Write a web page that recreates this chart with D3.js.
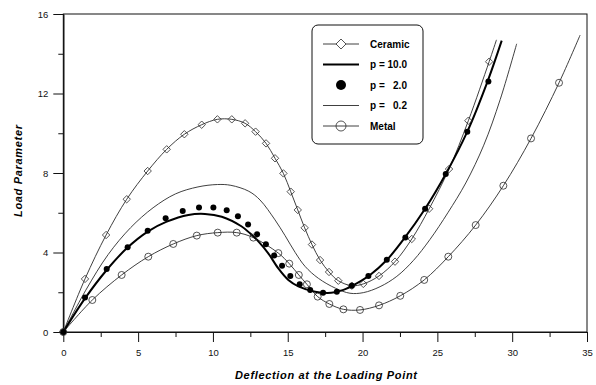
<!DOCTYPE html>
<html><head><meta charset="utf-8">
<script src="https://cdn.jsdelivr.net/npm/d3@7"></script>
<style>
body{margin:0;background:#fff;}
svg{display:block;font-family:"Liberation Sans",Arial,sans-serif;}
</style></head>
<body><svg id="chart" width="596" height="385"></svg>
<script>
// ---- data ----
const xMajorTicks = [0,5,10,15,20,25,30,35];
const xMinorTicks = [2.5,7.5,12.5,17.5,22.5,27.5,32.5];
const yMajorTicks = [0,4,8,12,16];
const yMinorTicks = [2,6,10,14];
const legendLabels = ["Ceramic","p = 10.0","p =   2.0","p =   0.2","Metal"];
const xTitle = "Deflection at the Loading Point";
const yTitle = "Load Parameter";

// Ceramic: markers (diamonds) and line end beyond last marker
const ceramic = [[0,0],[1.45,2.67],[2.86,4.88],[4.24,6.68],[5.64,8.10],[6.91,9.19],[8.09,9.95],[9.25,10.43],[10.3,10.70],[11.26,10.70],[12.15,10.5],[12.85,10.08],[13.55,9.49],[14.15,8.74],[14.71,7.98],[15.2,7.06],[15.67,6.14],[16.13,5.24],[16.62,4.4],[17.16,3.62],[17.76,3.02],[18.38,2.58],[19.28,2.33],[20.05,2.42],[21.1,2.82],[22.17,3.54],[23.29,4.68],[24.45,6.2],[25.78,8.2],[27.07,10.63],[28.46,13.6]];
const ceramicEnd = [[28.95,14.7]];
// p = 10.0 : thick line only
const p10 = [[0,0],[1.45,1.69],[2.9,3.12],[4.24,4.21],[5.64,5.05],[6.91,5.55],[8.36,5.89],[9.47,5.94],[10.59,5.80],[11.9,5.32],[12.5,4.95],[13.05,4.55],[13.7,3.96],[14.37,3.2],[15.04,2.62],[15.71,2.3],[16.83,2.03],[17.9,1.97],[18.72,2.12],[19.61,2.45],[20.5,2.87],[21.62,3.62],[22.8,4.72],[24.18,6.2],[25.56,7.95],[27.0,10.08],[28.35,12.6],[29.3,14.66]];
// p = 2.0 : filled dots only
const p2 = [[0,0],[1.45,1.74],[2.9,3.17],[4.3,4.26],[5.64,5.10],[6.84,5.72],[7.98,6.09],[9.07,6.27],[10.03,6.26],[10.92,6.12],[11.67,5.82],[12.35,5.41],[12.95,4.92],[13.54,4.42],[14.09,3.85],[14.62,3.33],[15.17,2.82],[15.8,2.4],[16.5,2.11],[17.36,1.98],[18.28,2.03],[19.28,2.33],[20.39,2.82],[21.62,3.64],[22.86,4.75],[24.18,6.2],[25.56,7.95],[27.0,10.08],[28.41,12.6]];
// p = 0.2 : thin line only
const p02 = [[0,0],[1.5,2.1],[3,3.9],[4.5,5.25],[6,6.25],[7.5,6.95],[9,7.3],[10.3,7.42],[11.2,7.38],[12.4,7.08],[13.15,6.64],[14.15,5.64],[14.82,4.85],[15.5,4.0],[16.16,3.3],[17.05,2.7],[18.2,2.2],[19.16,1.95],[20.05,1.98],[21.17,2.28],[22.29,2.8],[23.4,3.6],[24.5,4.65],[25.7,6.0],[26.9,7.5],[28.1,9.4],[29.2,11.7],[30.3,14.5]];
// Metal: markers (open circles) and line end
const metal = [[0,0],[1.94,1.61],[3.9,2.87],[5.68,3.79],[7.35,4.43],[8.92,4.85],[10.32,5.0],[11.59,5.0],[12.7,4.75],[14.37,3.97],[15.1,3.44],[15.74,2.87],[16.28,2.4],[17.0,1.78],[17.78,1.41],[18.72,1.14],[19.83,1.11],[21.1,1.34],[22.52,1.82],[24.12,2.62],[25.73,3.79],[27.56,5.38],[29.41,7.36],[31.26,9.74],[33.13,12.54]];
const metalEnd = [[34.54,14.94]];

// ---- drawing ----
const svg = d3.select("#chart");
const x = d3.scaleLinear().domain([0,35]).range([63.3,587]);
const y = d3.scaleLinear().domain([0,16]).range([332,14]);

const line = d3.line().x(d=>x(d[0])).y(d=>y(d[1])).curve(d3.curveCatmullRom.alpha(0.5));

// frame
svg.append("rect").attr("x",x(0)).attr("y",y(16)).attr("width",x(35)-x(0)).attr("height",y(0)-y(16))
  .attr("fill","none").attr("stroke","#111").attr("stroke-width",1);

// axes
function styleAxis(g){
  g.select(".domain").attr("stroke","#111");
  g.selectAll(".tick line").attr("stroke","#111");
  g.selectAll(".tick text").attr("fill","#111").style("font-size","9.5px").style("font-family",'"Liberation Sans",Arial,sans-serif');
}
svg.append("g").attr("transform",`translate(0,${y(0)})`)
  .call(d3.axisBottom(x).tickValues(xMajorTicks).tickSize(10).tickSizeOuter(0).tickPadding(7.5).tickFormat(d3.format("d")))
  .call(styleAxis);
svg.append("g").attr("transform",`translate(0,${y(0)})`)
  .call(d3.axisBottom(x).tickValues(xMinorTicks).tickSize(5).tickSizeOuter(0).tickFormat(""))
  .call(styleAxis);
svg.append("g").attr("transform",`translate(${x(0)},0)`)
  .call(d3.axisLeft(y).tickValues(yMajorTicks).tickSize(10).tickSizeOuter(0).tickPadding(5).tickFormat(d3.format("d")))
  .call(styleAxis);
svg.append("g").attr("transform",`translate(${x(0)},0)`)
  .call(d3.axisLeft(y).tickValues(yMinorTicks).tickSize(5).tickSizeOuter(0).tickFormat(""))
  .call(styleAxis);

// titles
svg.append("text").attr("x",326).attr("y",375).attr("text-anchor","middle").attr("dominant-baseline","central")
  .attr("textLength",182).attr("lengthAdjust","spacing")
  .style("font-size","11px").style("font-weight","bold").style("font-style","italic").text(xTitle);
svg.append("text").attr("transform","translate(18,171) rotate(-90)").attr("text-anchor","middle").attr("dominant-baseline","central")
  .attr("textLength",92).attr("lengthAdjust","spacing")
  .style("font-size","11px").style("font-weight","bold").style("font-style","italic").text(yTitle);

// lines
const thin = "#2a2a2a";
svg.append("path").datum(ceramic.concat(ceramicEnd)).attr("d",line).attr("fill","none").attr("stroke",thin).attr("stroke-width",0.9);
svg.append("path").datum(p02).attr("d",line).attr("fill","none").attr("stroke",thin).attr("stroke-width",0.9);
svg.append("path").datum(metal.concat(metalEnd)).attr("d",line).attr("fill","none").attr("stroke",thin).attr("stroke-width",0.9);
svg.append("path").datum(p10).attr("d",line).attr("fill","none").attr("stroke","#000").attr("stroke-width",2);

// markers
const diamond = s => `M0,${-s}L${s},0L0,${s}L${-s},0Z`;
svg.append("g").selectAll("path").data(ceramic).join("path")
  .attr("d",diamond(3.7)).attr("transform",d=>`translate(${x(d[0])},${y(d[1])})`)
  .attr("fill","none").attr("stroke",thin).attr("stroke-width",0.8);
svg.append("g").selectAll("circle").data(metal).join("circle")
  .attr("cx",d=>x(d[0])).attr("cy",d=>y(d[1])).attr("r",3.5)
  .attr("fill","none").attr("stroke",thin).attr("stroke-width",0.8);
svg.append("g").selectAll("circle").data(p2).join("circle")
  .attr("cx",d=>x(d[0])).attr("cy",d=>y(d[1])).attr("r",3)
  .attr("fill","#000");

// legend
const lg = svg.append("g");
lg.append("rect").attr("x",312).attr("y",25).attr("width",111).attr("height",119).attr("rx",6)
  .attr("fill","#fff").attr("stroke","#111").attr("stroke-width",1);
const rowY = i => 44 + i*20.5;
legendLabels.forEach((lab,i)=>{
  const yy = rowY(i);
  if(i!==2){
    lg.append("line").attr("x1",323).attr("x2",359).attr("y1",yy).attr("y2",yy)
      .attr("stroke", i===1 ? "#000" : thin).attr("stroke-width", i===1 ? 2 : 0.9);
  }
  if(i===0) lg.append("path").attr("d",diamond(5)).attr("transform",`translate(341,${yy})`).attr("fill","#fff").attr("stroke",thin).attr("stroke-width",0.8);
  if(i===2) lg.append("circle").attr("cx",341).attr("cy",yy).attr("r",5).attr("fill","#000");
  if(i===4) lg.append("circle").attr("cx",341).attr("cy",yy).attr("r",5).attr("fill","none").attr("stroke",thin).attr("stroke-width",0.8);
  lg.append("text").attr("x",370).attr("y",yy).attr("dominant-baseline","central")
    .style("font-size","10px").style("font-weight","bold").style("white-space","pre").attr("xml:space","preserve").text(lab);
});
</script></body></html>
